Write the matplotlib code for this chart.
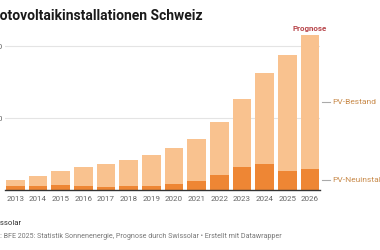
import numpy as np
import matplotlib.pyplot as plt

plt.rcParams['font.family'] = ['Roboto', 'DejaVu Sans']

# data (MW)
years = ['2013', '2014', '2015', '2016', '2017', '2018', '2019',
         '2020', '2021', '2022', '2023', '2024', '2025', '2026']
bestand = [700, 1000, 1290, 1570, 1830, 2110, 2420,
           2910, 3570, 4720, 6330, 8120, 9380, 10780]
neu = [300, 300, 330, 270, 240, 260, 300,
       420, 650, 1060, 1620, 1780, 1290, 1460]
yticks = [5000, 10000]
ytick_labels = ["5'000", "10'000"]

light = '#f9c28f'
dark = '#ee8634'
label_col = '#c88a4a'

W, H = 380, 250
fig = plt.figure(figsize=(W / 100, H / 100), dpi=100)
# axes box in pixels: left 5, right 320, baseline at 190, top at 32
ax = fig.add_axes([5 / W, (H - 190) / H, 315 / W, 158 / H])

x = np.arange(len(years))
ax.bar(x, bestand, width=0.82, color=light, zorder=2)
ax.bar(x, neu, width=0.82, color=dark, zorder=3)

ax.set_xlim(-0.46, 13.44)
ax.set_ylim(0, 11000)
ax.set_yticks(yticks)
ax.set_yticklabels(ytick_labels)
ax.set_xticks(x)
ax.set_xticklabels(years)
ax.tick_params(axis='x', length=0, pad=4, labelsize=5.8, labelcolor='#666666')
ax.tick_params(axis='y', length=0, pad=1.5, labelsize=6, labelcolor='#666666')
ax.grid(axis='y', color='#e4e4e4', linewidth=0.8, zorder=0)
for s in ['top', 'right', 'left']:
    ax.spines[s].set_visible(False)
ax.spines['bottom'].set_color('#333333')
ax.spines['bottom'].set_linewidth(1.0)
ax.spines['bottom'].set_zorder(4)

# Prognose label above last bar
ax.annotate('Prognose', (x[-1], bestand[-1]), xytext=(0, 2.5),
            textcoords='offset points', ha='center', va='bottom',
            fontsize=5.8, fontweight='bold', color='#b8474c')

# direct labels on the right
last = len(years) - 1
y_best = (neu[last] + bestand[last]) / 2
y_neu = neu[last] / 2
for yv, txt in [(y_best, 'PV-Bestand'), (y_neu, 'PV-Neuinstallation')]:
    ax.plot([13.53, 13.89], [yv, yv], color='#aaaaaa', linewidth=0.8,
            clip_on=False)
    ax.text(14.0, yv, txt, ha='left', va='center', fontsize=6,
            color=label_col, clip_on=False)

# title and footer, cut at the left edge like the reference
fig.canvas.draw()
rend = fig.canvas.get_renderer()


def cut_text(full, hidden, ypx, **kw):
    probe = fig.text(0, 0, hidden, **kw)
    w = probe.get_window_extent(rend).width
    probe.remove()
    fig.text(-w / W, 1 - ypx / H, full, ha='left', va='center', **kw)


cut_text('Photovoltaikinstallationen Schweiz', 'Ph', 16,
         fontsize=10, fontweight='bold', color='#1a1a1a')
cut_text('Grafik: Swissolar', 'Grafik: Swi', 223,
         fontsize=5.6, color='#333333')
cut_text('Quelle: BFE 2025: Statistik Sonnenenergie, Prognose durch Swissolar'
         ' \u2022 Erstellt mit Datawrapper', 'Quelle', 236,
         fontsize=5.1, color='#777777')

fig.savefig('out.png', dpi=100, facecolor='white')
